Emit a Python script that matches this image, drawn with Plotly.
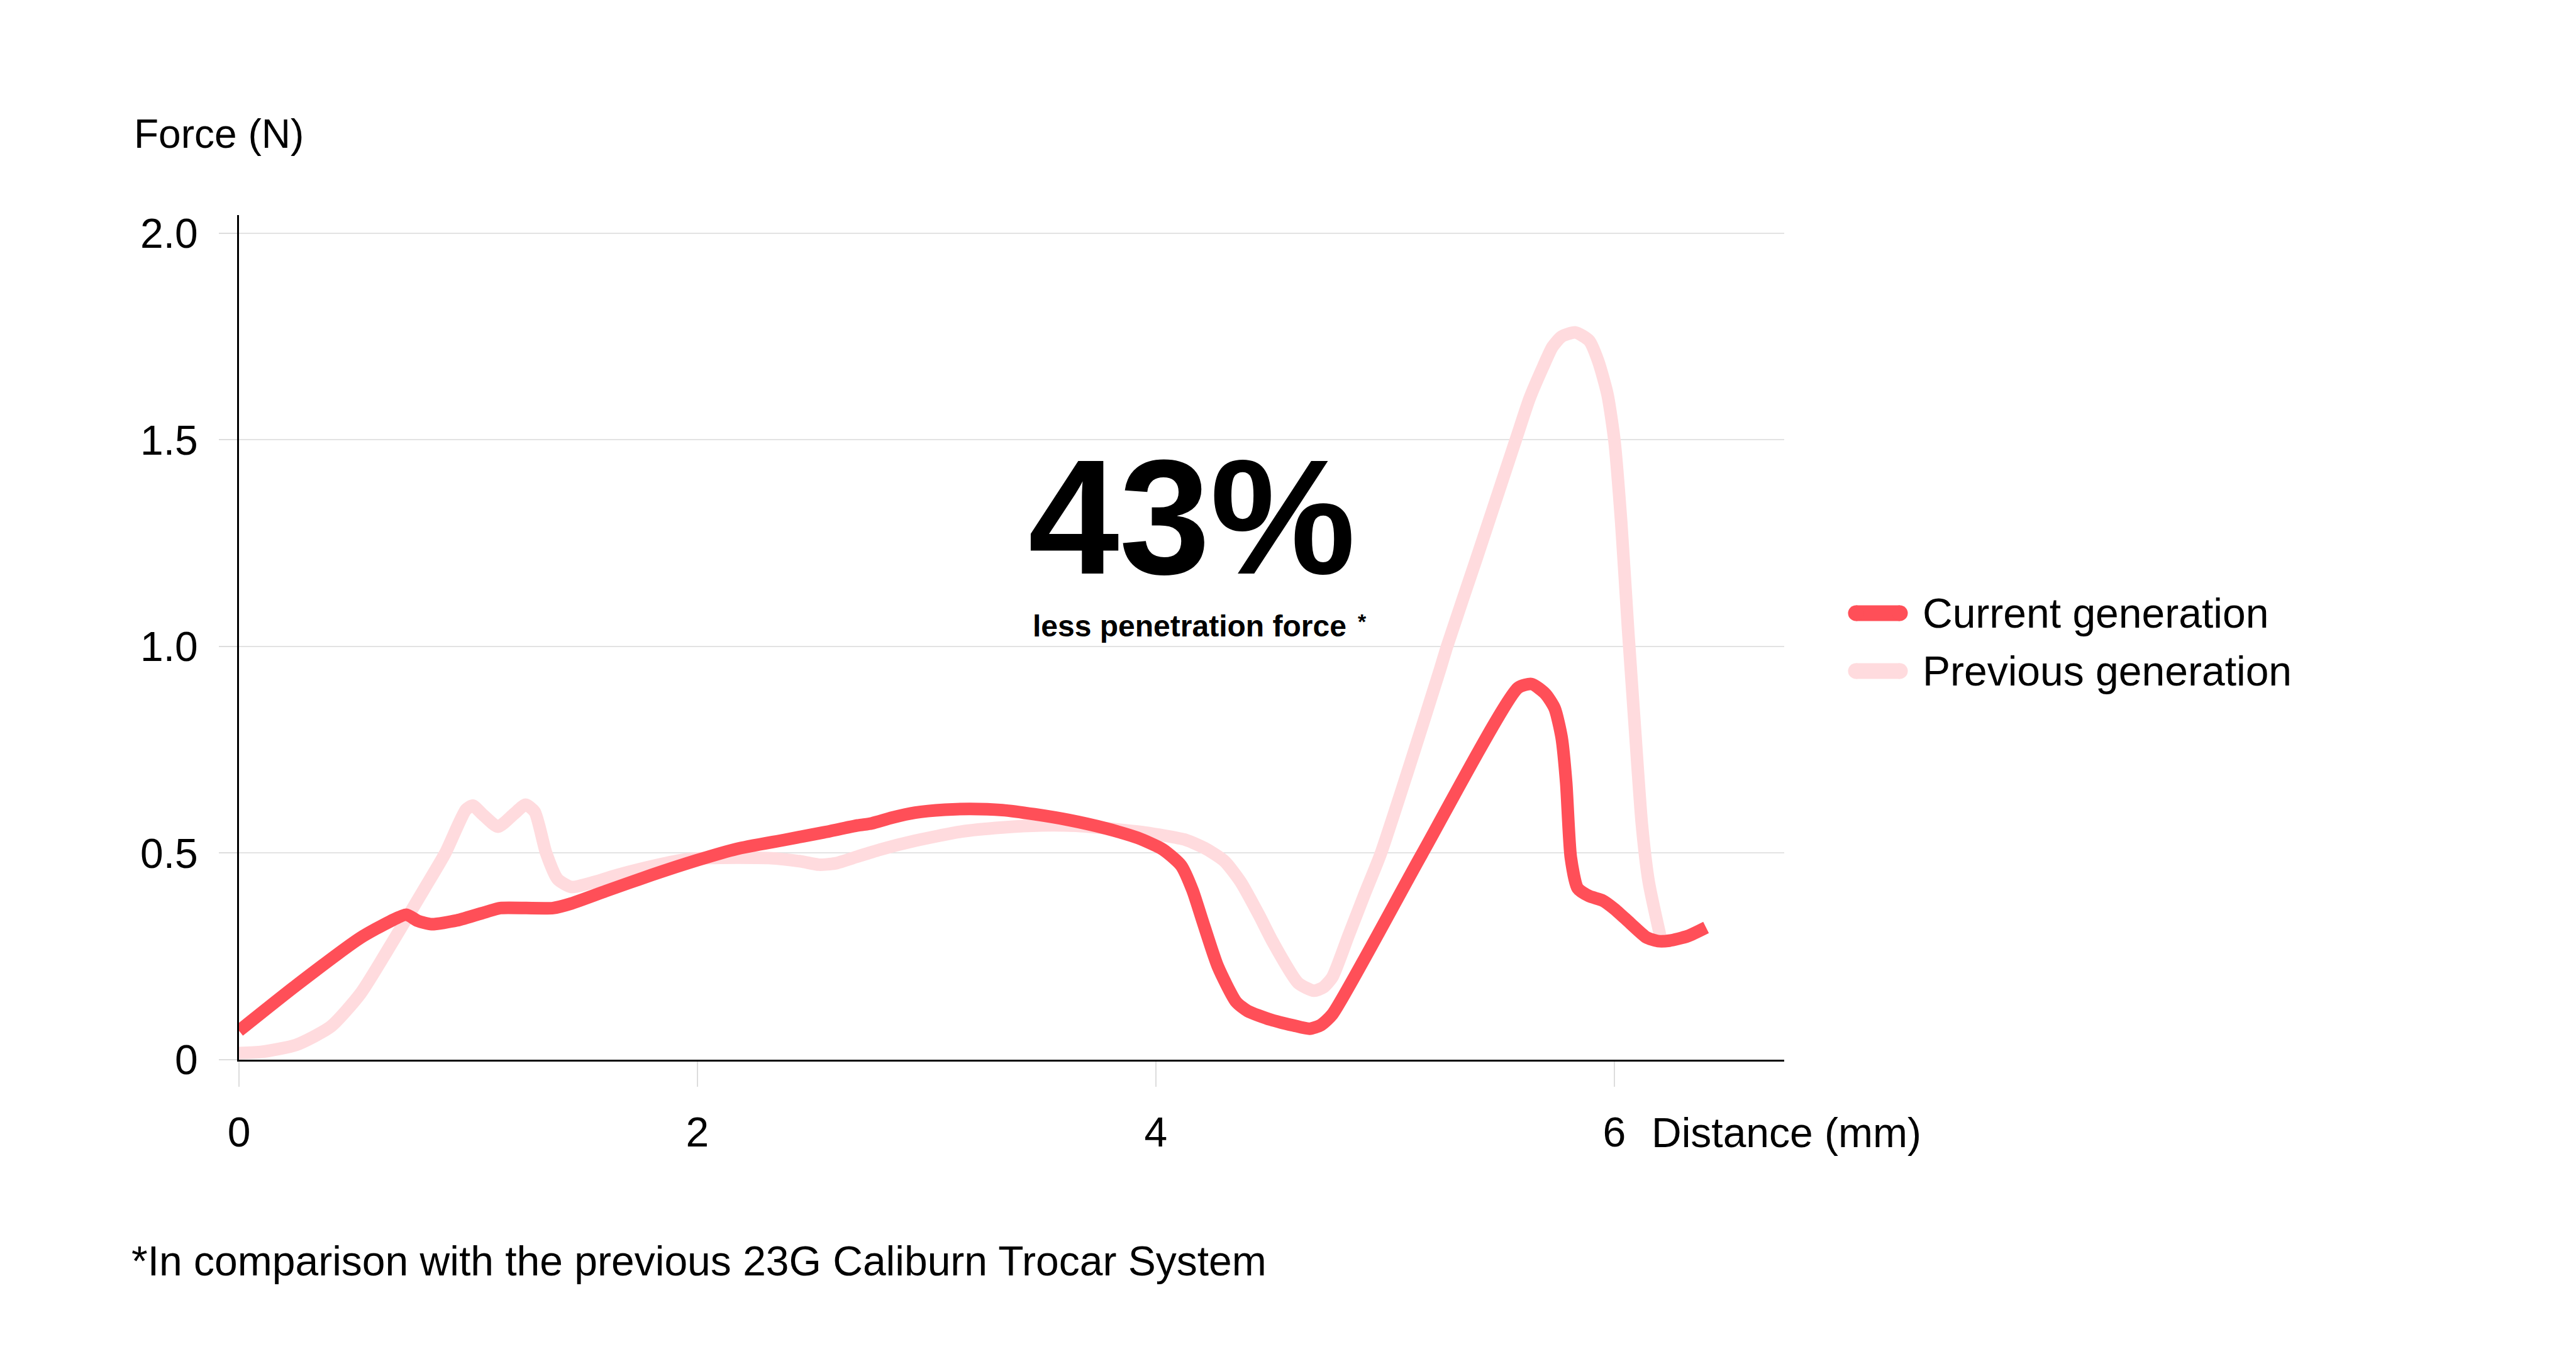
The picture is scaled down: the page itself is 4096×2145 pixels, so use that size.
import plotly.graph_objects as go

# force (N) against distance (mm)
current_x = [0, 0.25, 0.53, 0.66, 0.73, 0.78, 0.84, 0.95, 1.08, 1.14, 1.37, 1.45, 1.60,
             1.80, 2.00, 2.17, 2.38, 2.55, 2.70, 2.76, 2.85, 2.95, 3.08, 3.19, 3.33, 3.47,
             3.62, 3.78, 3.92, 4.03, 4.11, 4.16, 4.20, 4.27, 4.35, 4.40, 4.50, 4.60, 4.67,
             4.72, 4.77, 5.16, 5.58, 5.64, 5.70, 5.74, 5.77, 5.79, 5.81, 5.84, 5.89, 5.95,
             6.00, 6.07, 6.14, 6.19, 6.24, 6.32, 6.40]
current_y = [0.07, 0.18, 0.295, 0.335, 0.351, 0.336, 0.328, 0.337, 0.358, 0.367, 0.367, 0.378, 0.408,
             0.447, 0.483, 0.51, 0.532, 0.55, 0.567, 0.572, 0.586, 0.598, 0.605, 0.607, 0.604, 0.594,
             0.58, 0.56, 0.537, 0.509, 0.47, 0.41, 0.342, 0.226, 0.14, 0.118, 0.097, 0.083, 0.075,
             0.084, 0.11, 0.497, 0.90, 0.909, 0.885, 0.85, 0.78, 0.67, 0.49, 0.415, 0.396, 0.385,
             0.365, 0.33, 0.296, 0.287, 0.288, 0.299, 0.32]

previous_x = [0, 0.10, 0.25, 0.40, 0.53, 0.67, 0.81, 0.90, 0.99, 1.02, 1.06, 1.13, 1.20, 1.25,
              1.29, 1.34, 1.39, 1.45, 1.55, 1.65, 1.80, 1.93, 2.05, 2.17, 2.31, 2.45, 2.53, 2.60,
              2.70, 2.80, 2.95, 3.15, 3.33, 3.50, 3.65, 3.78, 3.95, 4.13, 4.22, 4.30, 4.37, 4.45,
              4.51, 4.62, 4.69, 4.73, 4.77, 4.84, 4.91, 4.98, 5.10, 5.24, 5.27, 5.40, 5.57, 5.63,
              5.69, 5.73, 5.77, 5.83, 5.89, 5.93, 5.97, 6.00, 6.03, 6.06, 6.09, 6.12, 6.15, 6.20]
previous_y = [0.016, 0.019, 0.036, 0.08, 0.16, 0.285, 0.415, 0.50, 0.605, 0.615, 0.595, 0.564, 0.595,
              0.617, 0.60, 0.50, 0.437, 0.418, 0.43, 0.447, 0.468, 0.483, 0.488, 0.489, 0.488, 0.48,
              0.472, 0.475, 0.492, 0.509, 0.53, 0.552, 0.562, 0.567, 0.566, 0.56, 0.55, 0.532, 0.51,
              0.48, 0.43, 0.35, 0.285, 0.186, 0.167, 0.175, 0.20, 0.30, 0.40, 0.497, 0.70, 0.945,
              1.0, 1.215, 1.50, 1.60, 1.678, 1.725, 1.75, 1.76, 1.74, 1.69, 1.61, 1.50, 1.30, 1.04,
              0.80, 0.57, 0.43, 0.30]

x_ticks = [0, 2, 4, 6]
y_ticks = [0, 0.5, 1.0, 1.5, 2.0]
y_ticktext = ["0", "0.5", "1.0", "1.5", "2.0"]
series_names = ["Current generation", "Previous generation"]

RED = "#FF4F58"
PINK = "#FFDBDE"
FONT = "Liberation Sans, Arial, sans-serif"

W, H = 4096, 2145
L, R, T, B = 380, 2837, 342, 1685   # plot area in pixels


def px(x):
    return (x - L) / (R - L)


def py(y):
    return (B - y) / (B - T)


fig = go.Figure()
fig.add_trace(go.Scatter(x=previous_x, y=previous_y, mode="lines", name=series_names[1],
                         line=dict(color=PINK, width=20, shape="spline", smoothing=0.6),
                         hoverinfo="skip"))
fig.add_trace(go.Scatter(x=current_x, y=current_y, mode="lines", name=series_names[0],
                         line=dict(color=RED, width=20, shape="spline", smoothing=0.6),
                         hoverinfo="skip"))

fig.update_layout(
    width=W, height=H,
    margin=dict(l=L, r=W - R, t=T, b=H - B, pad=0),
    paper_bgcolor="white", plot_bgcolor="white",
    showlegend=False,
    font=dict(family=FONT, size=66, color="black"),
)
fig.update_xaxes(range=[0, 6.741], tickvals=x_ticks, ticks="outside", ticklen=40, tickwidth=2,
                 tickcolor="#DDDDDD", showline=True, linecolor="black", linewidth=3,
                 showgrid=False, zeroline=False, ticklabelstandoff=16)
fig.update_yaxes(range=[0, 2.044], tickvals=y_ticks, ticktext=y_ticktext, ticks="outside",
                 ticklen=29, tickwidth=2, tickcolor="#DDDDDD", showline=True, linecolor="black",
                 linewidth=3, showgrid=True, gridcolor="#E3E3E3", gridwidth=2, zeroline=False,
                 ticklabelstandoff=20)

# legend drawn by hand so the swatches match the long rounded strokes
for name, color, row in zip(series_names, [RED, PINK], [975, 1067]):
    fig.add_shape(type="line", xref="paper", yref="paper", x0=px(2951), x1=px(3021),
                  y0=py(row), y1=py(row), line=dict(color=color, width=25))
    for cx in (2951, 3021):
        fig.add_shape(type="circle", xref="paper", yref="paper", x0=px(cx - 12.5), x1=px(cx + 12.5),
                      y0=py(row + 12.5), y1=py(row - 12.5), fillcolor=color, line=dict(width=0))
    fig.add_annotation(text=name, x=px(3055), y=py(row), xref="paper", yref="paper",
                       xanchor="left", yanchor="middle", showarrow=False, font=dict(size=66))

fig.add_annotation(text="Force (N)", x=px(211), y=py(213), xref="paper", yref="paper",
                   xanchor="left", yanchor="middle", showarrow=False, font=dict(size=64))
fig.add_annotation(text="Distance (mm)", x=px(2624), y=py(1801), xref="paper", yref="paper",
                   xanchor="left", yanchor="middle", showarrow=False, font=dict(size=66))

# headline, caption and its asterisk as separate boxes that just clear each other
fig.add_annotation(text="43%", x=px(1634), y=py(968), xref="paper", yref="paper",
                   xanchor="left", yanchor="bottom", showarrow=False, borderpad=0,
                   font=dict(size=260, weight=700))
fig.add_annotation(text="less penetration force", x=px(1641), y=py(968), xref="paper", yref="paper",
                   xanchor="left", yanchor="top", showarrow=False, borderpad=0,
                   font=dict(size=48, weight=700))
fig.add_annotation(text="*", x=px(2158), y=py(968), xref="paper", yref="paper",
                   xanchor="left", yanchor="top", showarrow=False, borderpad=0,
                   font=dict(size=34, weight=700))
fig.add_annotation(text="*In comparison with the previous 23G Caliburn Trocar System",
                   x=px(207), y=py(2005), xref="paper", yref="paper",
                   xanchor="left", yanchor="middle", showarrow=False, font=dict(size=66))

fig.write_html("out.html", config={"displayModeBar": False},
               post_script="document.body.style.margin='0';")
